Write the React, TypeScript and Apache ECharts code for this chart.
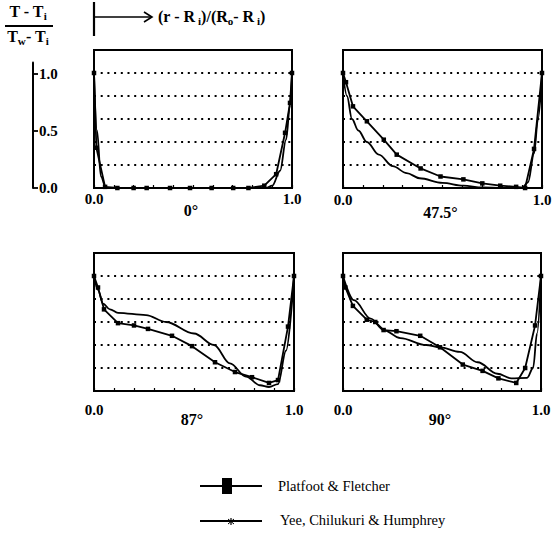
import React, { useEffect, useRef } from "react";
import * as echarts from "echarts";

// Panel titles (angle)
const panelTitles = ["0°", "47.5°", "87°", "90°"];
const seriesNames = ["Platfoot & Fletcher", "Yee, Chilukuri & Humphrey"];

// Platfoot & Fletcher (markers)
const pf0X = [0, 0.012, 0.056, 0.118, 0.2, 0.266, 0.384, 0.485, 0.594, 0.703, 0.78, 0.86, 0.92, 0.965, 0.99, 1.0];
const pf0Y = [1.0, 0.35, 0.01, 0, 0, 0, 0, 0, 0, 0, 0, 0.02, 0.12, 0.48, 0.74, 1.0];
const pf47X = [0, 0.015, 0.05, 0.12, 0.205, 0.27, 0.39, 0.49, 0.605, 0.7, 0.79, 0.87, 0.915, 0.96, 1.0];
const pf47Y = [1.0, 0.92, 0.71, 0.58, 0.42, 0.29, 0.17, 0.1, 0.075, 0.04, 0.02, 0.01, 0.0, 0.34, 1.0];
const pf87X = [0, 0.02, 0.05, 0.12, 0.2, 0.27, 0.39, 0.49, 0.605, 0.705, 0.79, 0.875, 0.92, 0.97, 1.0];
const pf87Y = [1.0, 0.9, 0.71, 0.59, 0.57, 0.54, 0.48, 0.39, 0.25, 0.165, 0.12, 0.07, 0.095, 0.56, 1.0];
const pf90X = [0, 0.012, 0.05, 0.12, 0.163, 0.205, 0.27, 0.39, 0.49, 0.605, 0.705, 0.785, 0.875, 0.92, 0.97, 1.0];
const pf90Y = [1.0, 0.9, 0.74, 0.62, 0.6, 0.53, 0.52, 0.48, 0.38, 0.23, 0.175, 0.11, 0.07, 0.2, 0.57, 1.0];

// Yee, Chilukuri & Humphrey (smooth)
const yee0X = [0, 0.015, 0.035, 0.06, 0.3, 0.6, 0.87, 0.9, 0.94, 0.97, 0.99, 1.0];
const yee0Y = [1.0, 0.5, 0.1, 0, 0, 0, 0, 0.02, 0.15, 0.42, 0.72, 1.0];
const yee47X = [0, 0.02, 0.045, 0.077, 0.12, 0.18, 0.25, 0.32, 0.385, 0.5, 0.605, 0.7, 0.8, 0.9, 0.93, 0.96, 0.98, 1.0];
const yee47Y = [1.0, 0.8, 0.6, 0.5, 0.4, 0.29, 0.19, 0.13, 0.085, 0.045, 0.02, 0.005, 0, 0, 0.05, 0.3, 0.6, 1.0];
const yee87X = [0, 0.02, 0.045, 0.08, 0.12, 0.26, 0.36, 0.5, 0.6, 0.68, 0.76, 0.83, 0.875, 0.92, 0.96, 1.0];
const yee87Y = [1.0, 0.88, 0.76, 0.71, 0.68, 0.66, 0.6, 0.5, 0.4, 0.24, 0.125, 0.05, 0.035, 0.06, 0.35, 1.0];
const yee90X = [0, 0.055, 0.14, 0.205, 0.29, 0.42, 0.49, 0.59, 0.68, 0.78, 0.85, 0.93, 0.96, 0.98, 1.0];
const yee90Y = [1.0, 0.79, 0.63, 0.53, 0.46, 0.4, 0.38, 0.34, 0.25, 0.15, 0.11, 0.115, 0.2, 0.5, 1.0];

// Tick labels
const xTickLabels = ["0.0", "1.0"];
const yRulerTicks = [0, 0.5, 1.0];

const zip = (xs: number[], ys: number[]) => xs.map((x, i) => [x, ys[i]]);

const pfX = [pf0X, pf47X, pf87X, pf90X];
const pfY = [pf0Y, pf47Y, pf87Y, pf90Y];
const yeeX = [yee0X, yee47X, yee87X, yee90X];
const yeeY = [yee0Y, yee47Y, yee87Y, yee90Y];

const SERIF = '"Liberation Serif", "DejaVu Serif", serif';

export default function App() {
  const ref = useRef<HTMLDivElement>(null);

  useEffect(() => {
    if (!ref.current) return;
    const chart = echarts.init(ref.current, undefined, { renderer: "svg" });

    const panels = [
      { left: 94, top: 50, width: 198, height: 138, labelMargin: 3, titleY: 210 },
      { left: 343, top: 50, width: 199, height: 138, labelMargin: 4, titleY: 212 },
      { left: 94, top: 253, width: 200, height: 138, labelMargin: 11, titleY: 419 },
      { left: 343, top: 253, width: 198, height: 138, labelMargin: 11, titleY: 419 },
    ];

    const grid: any[] = panels.map((p) => ({
      left: p.left,
      top: p.top,
      width: p.width,
      height: p.height,
      show: true,
      borderColor: "#000",
      borderWidth: 2,
      backgroundColor: "transparent",
    }));
    grid.push({ left: 33, top: 62.6, width: 1, height: 125.4 });

    const xAxis: any[] = panels.map((p, i) => ({
      type: "value",
      gridIndex: i,
      min: 0,
      max: 1,
      interval: 0.1,
      axisLine: { show: false },
      axisTick: { show: true, inside: true, length: 3, lineStyle: { color: "#000", width: 1.2 } },
      splitLine: { show: false },
      axisLabel: {
        margin: p.labelMargin,
        color: "#000",
        fontFamily: SERIF,
        fontWeight: "bold",
        fontSize: 15,
        formatter: (v: number) =>
          Math.abs(v) < 1e-9 ? xTickLabels[0] : Math.abs(v - 1) < 1e-9 ? xTickLabels[1] : "",
      },
    }));
    xAxis.push({ type: "value", gridIndex: 4, show: false, min: 0, max: 1 });

    const yAxis: any[] = panels.map((p, i) => ({
      type: "value",
      gridIndex: i,
      min: 0,
      max: 1.2,
      interval: 0.2,
      axisLine: { show: false },
      axisTick: { show: false },
      axisLabel: { show: false },
      splitLine: {
        show: true,
        lineStyle: { color: "#000", width: 1.8, type: [2, 4.7] },
      },
    }));
    yAxis.push({
      type: "value",
      gridIndex: 4,
      min: 0,
      max: 1.1,
      interval: 0.5,
      position: "left",
      axisLine: { show: true, onZero: false, lineStyle: { color: "#000", width: 2 } },
      axisTick: {
        show: true,
        inside: true,
        length: 5,
        customValues: yRulerTicks,
        lineStyle: { color: "#000", width: 1.8 },
      },
      axisLabel: {
        inside: true,
        margin: 6,
        customValues: yRulerTicks,
        color: "#000",
        fontFamily: SERIF,
        fontWeight: "bold",
        fontSize: 15,
        formatter: (v: number) =>
          yRulerTicks.some((t) => Math.abs(t - v) < 1e-9) ? v.toFixed(1) : "",
      },
      splitLine: { show: false },
    });

    const series: any[] = [];
    for (let i = 0; i < 4; i++) {
      series.push({
        name: seriesNames[1],
        type: "line",
        xAxisIndex: i,
        yAxisIndex: i,
        data: zip(yeeX[i], yeeY[i]),
        smooth: 0.35,
        smoothMonotone: "x",
        symbol: "none",
        lineStyle: { color: "#000", width: 1.8 },
        z: 3,
      });
      series.push({
        name: seriesNames[0],
        type: "line",
        xAxisIndex: i,
        yAxisIndex: i,
        data: zip(pfX[i], pfY[i]),
        symbol: "rect",
        symbolSize: 4.5,
        itemStyle: { color: "#000" },
        lineStyle: { color: "#000", width: 1.8 },
        z: 4,
      });
    }

    const titleFont = `bold 16px ${SERIF}`;
    const graphic: any[] = panels.map((p, i) => ({
      type: "text",
      x: p.left + p.width / 2 - 2,
      y: p.titleY,
      style: {
        text: panelTitles[i],
        font: titleFont,
        fill: "#000",
        align: "center",
        verticalAlign: "middle",
      },
    }));

    const rich = {
      a: { fontFamily: SERIF, fontWeight: "bold", fontSize: 16, lineHeight: 16, verticalAlign: "top", color: "#000" },
      s: { fontFamily: SERIF, fontWeight: "bold", fontSize: 11, lineHeight: 11, padding: [7, 0, 0, 0], verticalAlign: "top", color: "#000" },
    };

    // Y label fraction
    graphic.push(
      {
        type: "text",
        x: 28,
        y: 3,
        style: { text: "{a|T - T}{s|i}", rich, align: "center", fill: "#000" },
      },
      {
        type: "line",
        shape: { x1: 5, y1: 26, x2: 53, y2: 26 },
        style: { stroke: "#000", lineWidth: 1.8 },
      },
      {
        type: "text",
        x: 28,
        y: 28,
        style: { text: "{a|T}{s|w}{a|- T}{s|i}", rich, align: "center", fill: "#000" },
      }
    );

    // X label arrow
    graphic.push(
      {
        type: "line",
        shape: { x1: 94, y1: 2, x2: 94, y2: 36 },
        style: { stroke: "#000", lineWidth: 2.2 },
      },
      {
        type: "line",
        shape: { x1: 94, y1: 17, x2: 151, y2: 17 },
        style: { stroke: "#000", lineWidth: 1.6 },
      },
      {
        type: "polyline",
        shape: { points: [[144, 12], [152, 17], [144, 22]] },
        style: { stroke: "#000", lineWidth: 1.6, fill: "none" },
      },
      {
        type: "text",
        x: 158,
        y: 8,
        style: { text: "{a|(r - R}{s| i}{a|)/(R}{s|o}{a|- R}{s| i}{a|)}", rich, fill: "#000" },
      }
    );

    // Legend
    const ly1 = 486;
    const ly2 = 521;
    const legendFont = `14.5px ${SERIF}`;
    graphic.push(
      {
        type: "line",
        shape: { x1: 200, y1: ly1, x2: 262, y2: ly1 },
        style: { stroke: "#000", lineWidth: 1.8 },
      },
      {
        type: "rect",
        shape: { x: 222, y: ly1 - 8, width: 10, height: 16 },
        style: { fill: "#000" },
      },
      {
        type: "text",
        x: 278,
        y: ly1,
        style: { text: seriesNames[0], font: legendFont, fill: "#000", verticalAlign: "middle" },
      },
      {
        type: "line",
        shape: { x1: 200, y1: ly2, x2: 262, y2: ly2 },
        style: { stroke: "#000", lineWidth: 1.8 },
      },
      {
        type: "line",
        shape: { x1: 231, y1: ly2 - 3, x2: 231, y2: ly2 + 4 },
        style: { stroke: "#000", lineWidth: 1.2 },
      },
      {
        type: "line",
        shape: { x1: 228, y1: ly2 + 3, x2: 234, y2: ly2 - 2 },
        style: { stroke: "#000", lineWidth: 1 },
      },
      {
        type: "line",
        shape: { x1: 228, y1: ly2 - 2, x2: 234, y2: ly2 + 3 },
        style: { stroke: "#000", lineWidth: 1 },
      },
      {
        type: "text",
        x: 280,
        y: ly2 - 1,
        style: { text: seriesNames[1], font: legendFont, fill: "#000", verticalAlign: "middle" },
      }
    );

    chart.setOption({
      animation: false,
      backgroundColor: "#fff",
      grid,
      xAxis,
      yAxis,
      series,
      graphic,
    });

    return () => chart.dispose();
  }, []);

  return (
    <div
      ref={ref}
      style={{ position: "fixed", left: 0, top: 0, width: 555, height: 533, background: "#fff" }}
    />
  );
}
